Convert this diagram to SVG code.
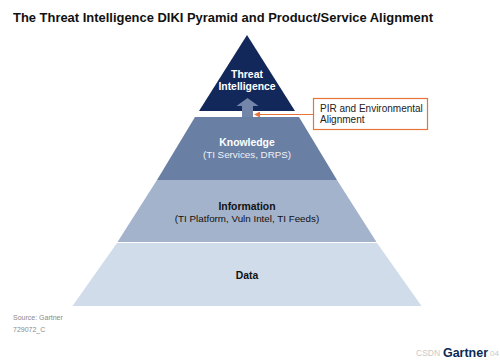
<svg xmlns="http://www.w3.org/2000/svg" width="500" height="363" viewBox="0 0 500 363">
<defs>
<style>
.t{font-family:"Liberation Sans",Arial,sans-serif;}
.b{font-weight:bold;}
.lbl{font-size:9.8px;text-anchor:middle;}
.lb{font-size:10.4px;text-anchor:middle;font-weight:bold;}
.w{fill:#ffffff;}
.k{fill:#111111;}
.src{font-size:7px;fill:#8a8a8a;}
</style>
<marker id="ah" markerWidth="6" markerHeight="6" refX="5" refY="3" orient="auto" markerUnits="userSpaceOnUse">
<path d="M0,0 L6,3 L0,6 z" fill="#e8733a"/>
</marker>
</defs>
<rect width="500" height="363" fill="#ffffff"/>
<text class="t b" x="13" y="22" font-size="12.5" fill="#111" textLength="420" lengthAdjust="spacingAndGlyphs">The Threat Intelligence DIKI Pyramid and Product/Service Alignment</text>

<g id="data">
<polygon points="117,243 377,243 421.5,306 72.5,306" fill="#d0dce9"/>
<text class="t lb k" x="247" y="279">Data</text>
</g>
<g id="information">
<polygon points="157,180 337,180 376.5,242 117.5,242" fill="#a4b3cc"/>
<text class="t lb k" x="247" y="210">Information</text>
<text class="t lbl k" x="247" y="222">(TI Platform, Vuln Intel, TI Feeds)</text>
</g>
<g id="knowledge">
<polygon points="195,117 299,117 337,180 157,180" fill="#6a7fa4"/>
<text class="t lb w" x="247" y="146">Knowledge</text>
<text class="t lbl" x="247" y="158" fill="#eef1f6">(TI Services, DRPS)</text>
</g>
<g id="threat-intelligence">
<polygon points="247,35 295,111 199,111" fill="#12285a"/>
<text class="t lb w" x="247" y="78">Threat</text>
<text class="t lb w" x="247" y="90">Intelligence</text>
</g>
<g id="connectors">
<polygon points="242,117 242,106 236.5,106 247.5,98 258.5,106 253,106 253,117" fill="#7386aa"/>
<line x1="313.5" y1="114.5" x2="255" y2="114.5" stroke="#e8733a" stroke-width="1.2" marker-end="url(#ah)"/>
</g>
<g id="callout">
<rect x="313.5" y="98.5" width="114" height="31" fill="#ffffff" stroke="#e8733a" stroke-width="1.2"/>
<text class="t" x="320" y="111.5" font-size="10" fill="#222">PIR and Environmental</text>
<text class="t" x="320" y="123" font-size="10" fill="#222">Alignment</text>
</g>
<text class="t src" x="13" y="320">Source: Gartner</text>
<text class="t src" x="13" y="331.5">729072_C</text>
<text class="t" x="416" y="356" font-size="8.5" fill="#c8c8c8">CSDN</text>
<text class="t" x="490" y="356" font-size="8" fill="#c8c8c8">04</text>
<text class="t b" x="443" y="357" font-size="13" fill="#0b2a55" textLength="45" lengthAdjust="spacingAndGlyphs">Gartner</text>
</svg>
